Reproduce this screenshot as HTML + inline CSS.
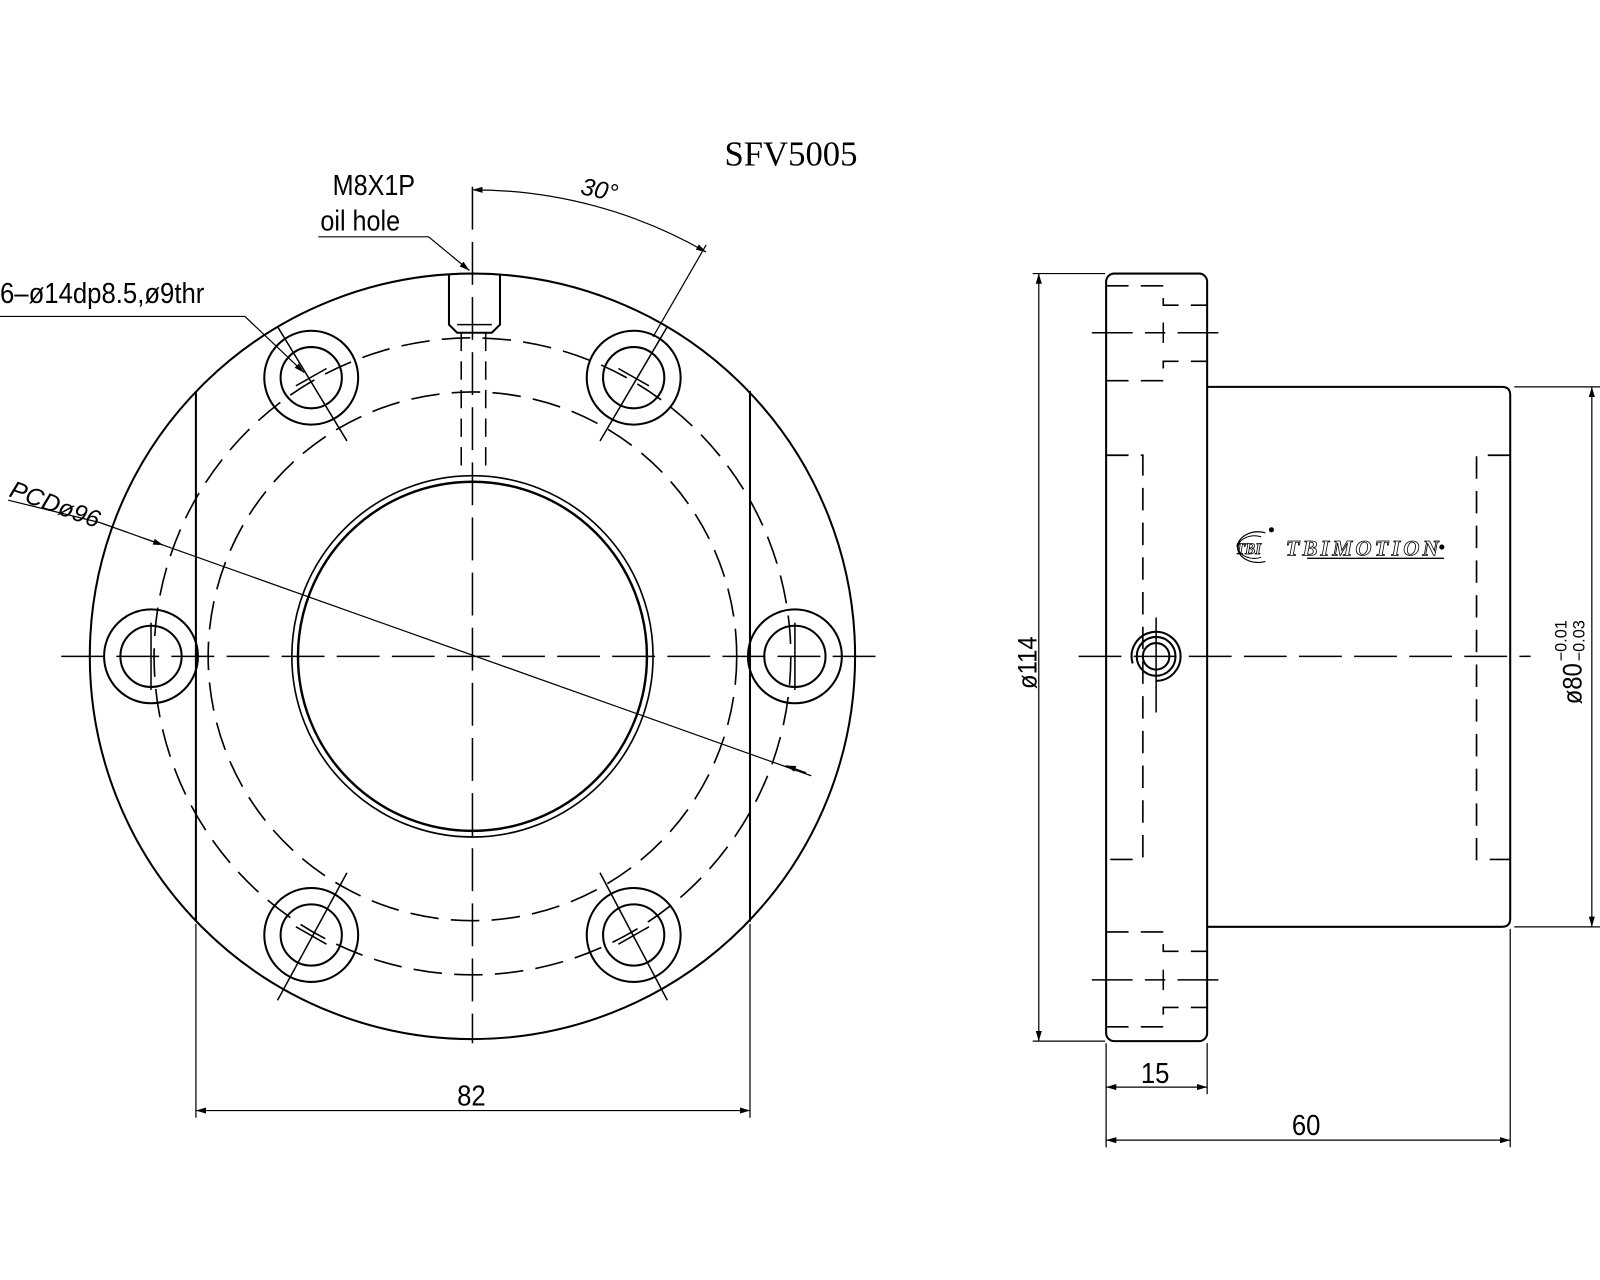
<!DOCTYPE html>
<html><head><meta charset="utf-8"><style>html,body{margin:0;padding:0;background:#fff}svg{display:block}</style></head>
<body>
<svg width="1600" height="1280" viewBox="0 0 1568 1254" preserveAspectRatio="none" xmlns="http://www.w3.org/2000/svg" font-family="Liberation Sans, DejaVu Sans, sans-serif">
<defs>
<marker id="ar" viewBox="0 0 10 6" refX="10" refY="3" markerWidth="10" markerHeight="6" orient="auto-start-reverse" markerUnits="userSpaceOnUse"><path d="M0,0 L10,3 L0,6 z" fill="#000"/></marker>
</defs>
<g fill="none" stroke="#000" stroke-width="2">
<circle cx="463" cy="643" r="375"/>
<line x1="192" y1="383" x2="192" y2="903"/>
<line x1="735" y1="383" x2="735" y2="903"/>
<circle cx="463" cy="643" r="312" stroke-dasharray="28 12" stroke-width="1.6"/>
<circle cx="463" cy="643" r="259" stroke-dasharray="28 12" stroke-width="1.6"/>
<circle cx="463" cy="643" r="171" stroke-width="2.4"/>
<circle cx="463" cy="643" r="177" stroke-width="1.6"/>
<circle cx="305" cy="370" r="46"/><circle cx="305" cy="370" r="30"/>
<circle cx="621" cy="370" r="46"/><circle cx="621" cy="370" r="30"/>
<circle cx="305" cy="916" r="46"/><circle cx="305" cy="916" r="30"/>
<circle cx="621" cy="916" r="46"/><circle cx="621" cy="916" r="30"/>
<circle cx="148" cy="643" r="46"/><circle cx="148" cy="643" r="30"/>
<circle cx="779" cy="643" r="46"/><circle cx="779" cy="643" r="30"/>
<g stroke-width="1.5">
<line x1="272" y1="320" x2="340" y2="432"/><line x1="290" y1="378" x2="320" y2="361"/>
<line x1="654" y1="320" x2="588" y2="432"/><line x1="606" y1="361" x2="636" y2="378"/>
<line x1="272" y1="980" x2="340" y2="855"/><line x1="290" y1="908" x2="320" y2="925"/>
<line x1="654" y1="980" x2="588" y2="855"/><line x1="606" y1="925" x2="636" y2="908"/>
<line x1="148" y1="610" x2="148" y2="676"/>
<line x1="779" y1="610" x2="779" y2="676"/>
</g>
<path d="M440 268 L440 318 L448 326 L482 326 L490 318 L490 268"/>
<line x1="448" y1="318" x2="482" y2="318" stroke-width="1.5"/>
<line x1="452" y1="326" x2="452" y2="465" stroke-dasharray="18 10" stroke-width="1.5"/>
<line x1="476" y1="326" x2="476" y2="465" stroke-dasharray="18 10" stroke-width="1.5"/>
<line x1="463" y1="183" x2="463" y2="1022" stroke-dasharray="42 12" stroke-width="1.5"/>
<line x1="60" y1="643" x2="870" y2="643" stroke-dasharray="42 12" stroke-width="1.5"/>
<g stroke-width="1.2">
<line x1="8" y1="490" x2="98" y2="512"/>
<line x1="98" y1="512" x2="795" y2="760"/>
<line x1="140" y1="527" x2="160" y2="534" marker-end="url(#ar)"/>
<line x1="790" y1="757" x2="770" y2="750" marker-end="url(#ar)"/>
<line x1="0" y1="310" x2="240" y2="310"/>
<line x1="240" y1="310" x2="298" y2="365" marker-end="url(#ar)"/>
<line x1="312" y1="232" x2="420" y2="232"/>
<line x1="420" y1="232" x2="460" y2="265" marker-end="url(#ar)"/>
<path d="M463 186 A457 457 0 0 1 692 247" marker-start="url(#ar)" marker-end="url(#ar)"/>
<line x1="692" y1="240" x2="640" y2="330"/>
<line x1="192" y1="905" x2="192" y2="1095"/>
<line x1="735" y1="905" x2="735" y2="1095"/>
<line x1="192" y1="1088" x2="735" y2="1088" marker-start="url(#ar)" marker-end="url(#ar)"/>
</g>

<rect x="1084" y="268" width="99" height="752" rx="8"/>
<path d="M1183 379 L1472 379 Q1480 379 1480 387 L1480 900 Q1480 908 1472 908 L1183 908"/>
<g stroke-dasharray="22 12" stroke-width="1.6">
<path d="M1084 280 L1140 280 L1140 299 L1183 299"/>
<path d="M1084 373 L1140 373 L1140 354 L1183 354"/>
<path d="M1084 1006 L1140 1006 L1140 987 L1183 987"/>
<path d="M1084 913 L1140 913 L1140 932 L1183 932"/>
<path d="M1084 446 L1120 446 L1120 842 L1084 842"/>
<path d="M1480 446 L1447 446 L1447 842 L1480 842"/>
</g>
<g stroke-width="1.5">
<line x1="1070" y1="326" x2="1198" y2="326" stroke-dasharray="40 12 20 12"/>
<line x1="1140" y1="316" x2="1140" y2="336"/>
<line x1="1070" y1="960" x2="1198" y2="960" stroke-dasharray="40 12 20 12"/>
<line x1="1140" y1="950" x2="1140" y2="970"/>
<line x1="1057" y1="643" x2="1500" y2="643" stroke-dasharray="42 12"/>
<line x1="1133" y1="605" x2="1133" y2="698"/>
</g>
<circle cx="1133" cy="643" r="13"/>
<circle cx="1133" cy="643" r="19"/>
<path d="M1110 650 A24 24 0 1 1 1133 667"/>
<g stroke-width="1.2">
<line x1="1012" y1="268" x2="1083" y2="268"/>
<line x1="1012" y1="1020" x2="1083" y2="1020"/>
<line x1="1018" y1="268" x2="1018" y2="1020" marker-start="url(#ar)" marker-end="url(#ar)"/>
<line x1="1484" y1="379" x2="1568" y2="379"/>
<line x1="1484" y1="908" x2="1568" y2="908"/>
<line x1="1560" y1="379" x2="1560" y2="908" marker-start="url(#ar)" marker-end="url(#ar)"/>
<line x1="1084" y1="1022" x2="1084" y2="1124"/>
<line x1="1183" y1="1022" x2="1183" y2="1072"/>
<line x1="1480" y1="910" x2="1480" y2="1124"/>
<line x1="1084" y1="1065" x2="1183" y2="1065" marker-start="url(#ar)" marker-end="url(#ar)"/>
<line x1="1084" y1="1117" x2="1480" y2="1117" marker-start="url(#ar)" marker-end="url(#ar)"/>
</g>
<path d="M1240 522 A20 15 0 1 0 1240 550" stroke-width="1.2"/>
<path d="M1236 526 A16 11 0 1 0 1236 546" stroke-width="1"/>
<line x1="1281" y1="547" x2="1415" y2="547" stroke-width="1.4"/>
</g>
<g fill="#000">
<text x="710" y="162" font-family="Liberation Serif, serif" font-size="34">SFV5005</text>
<text transform="translate(326,191) scale(0.88,1)" font-size="28">M8X1P</text>
<text transform="translate(314,226) scale(0.88,1)" font-size="28">oil hole</text>
<text transform="translate(0,297) scale(0.9,1)" font-size="28">6–ø14dp8.5,ø9thr</text>
<text x="0" y="0" font-size="24" font-style="italic" transform="translate(8,486) rotate(20)">PCDø96</text>
<text x="0" y="0" font-size="24" font-style="italic" transform="translate(568,190) rotate(12)">30°</text>
<text transform="translate(448,1083) scale(0.9,1)" font-size="28">82</text>
<text x="0" y="0" font-size="26" transform="translate(1016,675) rotate(-90) scale(0.9,1)">ø114</text>
<text x="0" y="0" font-size="26" transform="translate(1550,690) rotate(-90) scale(0.9,1)">ø80</text>
<text x="0" y="0" font-size="16" transform="translate(1535,648) rotate(-90)">−0.01</text>
<text x="0" y="0" font-size="16" transform="translate(1553,648) rotate(-90)">−0.03</text>
<text transform="translate(1118,1061) scale(0.9,1)" font-size="28">15</text>
<text transform="translate(1266,1112) scale(0.9,1)" font-size="28">60</text>
<text x="1211" y="543" font-family="Liberation Serif, serif" font-size="15" font-style="italic" font-weight="bold" fill="none" stroke="#000" stroke-width="0.8">TBI</text>
<text x="1260" y="544" font-family="Liberation Serif, serif" font-size="22" font-style="italic" font-weight="bold" fill="none" stroke="#000" stroke-width="0.8" textLength="150">TBIMOTION</text>
<circle cx="1413" cy="536" r="2.5"/>
<circle cx="1246" cy="519" r="2.5"/>
</g>
</svg>
</body></html>
